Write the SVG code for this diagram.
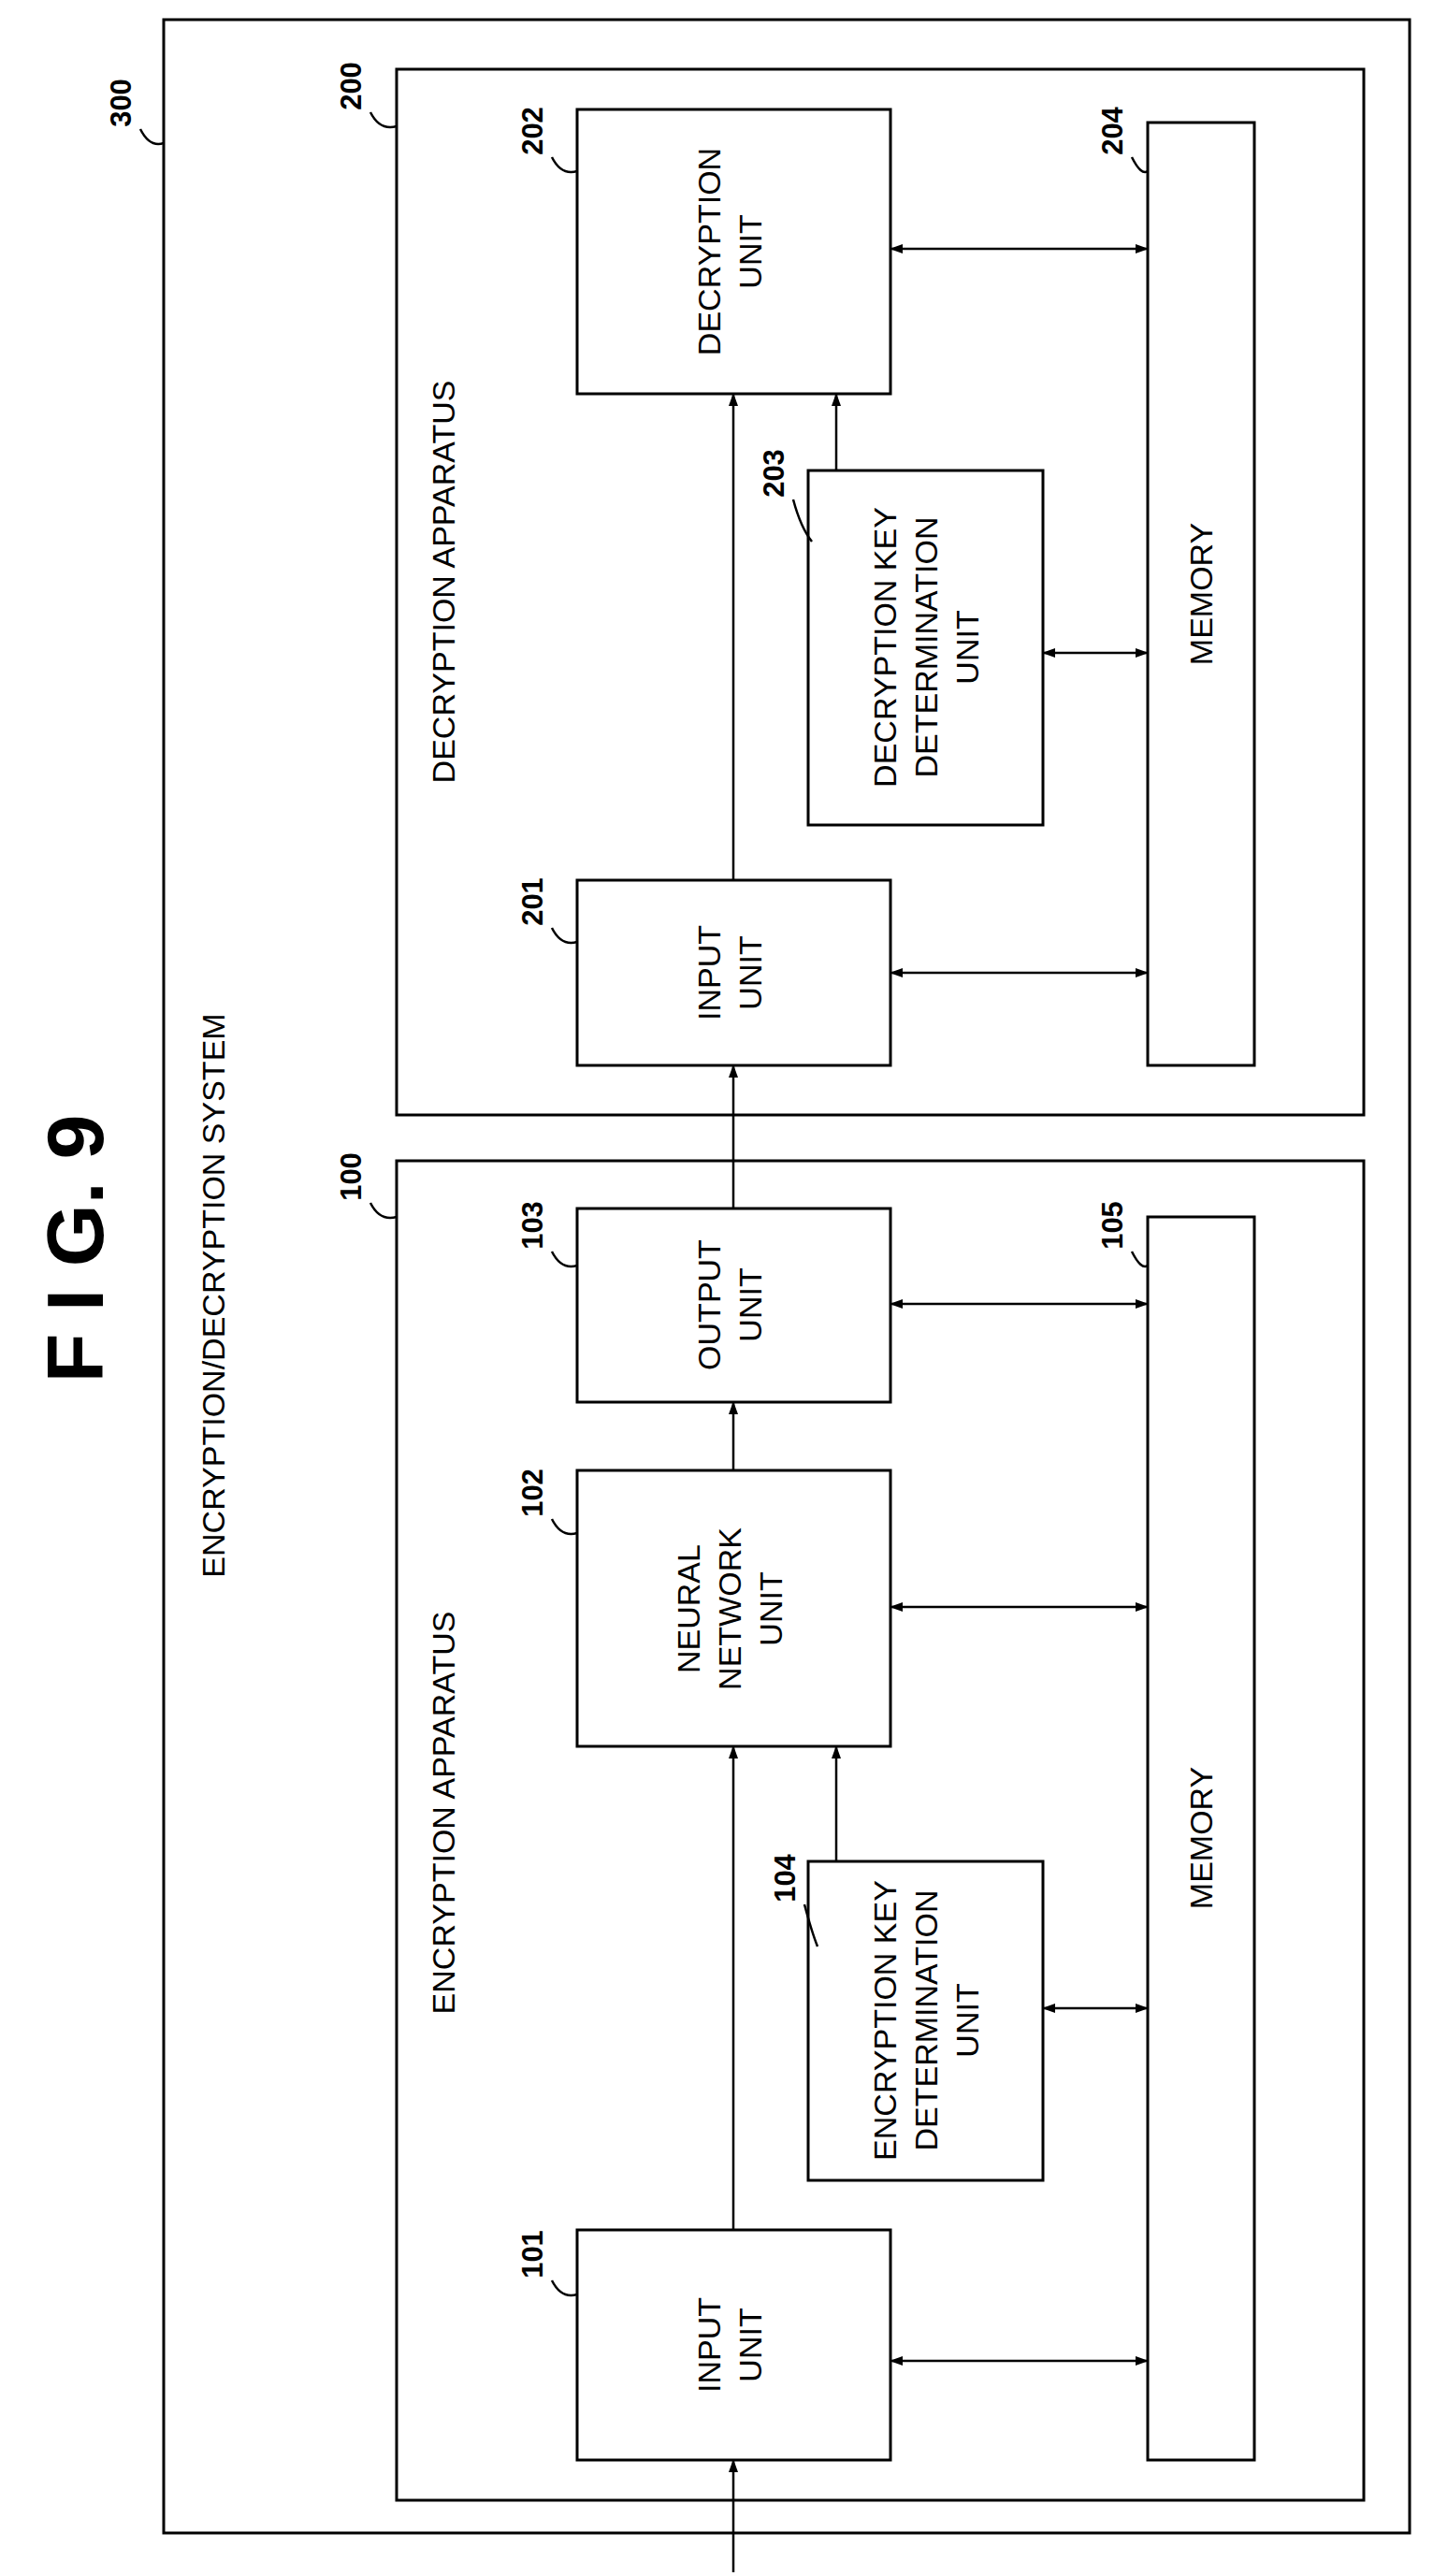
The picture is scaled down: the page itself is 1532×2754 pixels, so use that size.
<svg xmlns="http://www.w3.org/2000/svg" width="1532" height="2754" viewBox="0 0 1532 2754">
<style>
.b{fill:#fff;stroke:#000;stroke-width:3}
.t{font-family:"Liberation Sans",Arial,sans-serif;font-size:34px;text-anchor:middle;fill:#000}
.n{font-family:"Liberation Sans",Arial,sans-serif;font-size:31px;font-weight:bold;text-anchor:middle;fill:#000}
.l{fill:none;stroke:#000;stroke-width:2.5}
.a{fill:none;stroke:#000;stroke-width:2.5;marker-end:url(#ah)}
.d{fill:none;stroke:#000;stroke-width:2.5;marker-end:url(#ah);marker-start:url(#ah)}
</style>
<defs><marker id="ah" markerWidth="14" markerHeight="10" refX="13" refY="5" orient="auto-start-reverse" markerUnits="userSpaceOnUse"><path d="M0,0 L14,5 L0,10 Z" fill="#000"/></marker></defs>
<rect width="1532" height="2754" fill="#fff"/>
<text class="n" style="font-size:86px" transform="translate(110,1335) rotate(-90)">F I G. 9</text>
<g id="n300"><rect class="b" x="175" y="21" width="1332" height="2687"/>
<text class="t" transform="translate(240,1385) rotate(-90)">ENCRYPTION/DECRYPTION SYSTEM</text>
<text class="n" transform="translate(140,110) rotate(-90)">300</text><path class="l" d="M150,138 q10,20 25,15"/></g>
<g id="n200"><rect class="b" x="424" y="74" width="1034" height="1118"/>
<text class="t" transform="translate(486,622) rotate(-90)">DECRYPTION APPARATUS</text>
<text class="n" transform="translate(386,92) rotate(-90)">200</text><path class="l" d="M396,120 q10,20 28,15"/></g>
<g id="n100"><rect class="b" x="424" y="1241" width="1034" height="1432"/>
<text class="t" transform="translate(486,1938) rotate(-90)">ENCRYPTION APPARATUS</text>
<text class="n" transform="translate(386,1258) rotate(-90)">100</text><path class="l" d="M396,1286 q10,20 28,15"/></g>
<g id="n202"><rect class="b" x="617" y="117" width="335" height="304"/>
<text class="t" transform="translate(780,269) rotate(-90)"><tspan x="0" y="-10">DECRYPTION</tspan><tspan x="0" y="34">UNIT</tspan></text>
<text class="n" transform="translate(580,140) rotate(-90)">202</text><path class="l" d="M590,168 q10,20 27,15"/></g>
<g id="n203"><rect class="b" x="864" y="503" width="251" height="379"/>
<text class="t" transform="translate(990,692) rotate(-90)"><tspan x="0" y="-32">DECRYPTION KEY</tspan><tspan x="0" y="12">DETERMINATION</tspan><tspan x="0" y="56">UNIT</tspan></text>
<text class="n" transform="translate(838,506) rotate(-90)">203</text><path class="l" d="M848,534 q8,30 20,45"/></g>
<g id="n201"><rect class="b" x="617" y="941" width="335" height="198"/>
<text class="t" transform="translate(780,1040) rotate(-90)"><tspan x="0" y="-10">INPUT</tspan><tspan x="0" y="34">UNIT</tspan></text>
<text class="n" transform="translate(580,964) rotate(-90)">201</text><path class="l" d="M590,992 q10,20 27,15"/></g>
<g id="n204"><rect class="b" x="1227" y="131" width="114" height="1008"/>
<text class="t" transform="translate(1296,635) rotate(-90)">MEMORY</text>
<text class="n" transform="translate(1200,140) rotate(-90)">204</text><path class="l" d="M1210,168 q10,20 17,15"/></g>
<g id="n103"><rect class="b" x="617" y="1292" width="335" height="207"/>
<text class="t" transform="translate(780,1395) rotate(-90)"><tspan x="0" y="-10">OUTPUT</tspan><tspan x="0" y="34">UNIT</tspan></text>
<text class="n" transform="translate(580,1310) rotate(-90)">103</text><path class="l" d="M590,1338 q10,20 27,15"/></g>
<g id="n102"><rect class="b" x="617" y="1572" width="335" height="295"/>
<text class="t" transform="translate(780,1720) rotate(-90)"><tspan x="0" y="-32">NEURAL</tspan><tspan x="0" y="12">NETWORK</tspan><tspan x="0" y="56">UNIT</tspan></text>
<text class="n" transform="translate(580,1596) rotate(-90)">102</text><path class="l" d="M590,1624 q10,20 27,15"/></g>
<g id="n104"><rect class="b" x="864" y="1990" width="251" height="341"/>
<text class="t" transform="translate(990,2160) rotate(-90)"><tspan x="0" y="-32">ENCRYPTION KEY</tspan><tspan x="0" y="12">DETERMINATION</tspan><tspan x="0" y="56">UNIT</tspan></text>
<text class="n" transform="translate(850,2008) rotate(-90)">104</text><path class="l" d="M860,2036 q8,30 14,45"/></g>
<g id="n101"><rect class="b" x="617" y="2384" width="335" height="246"/>
<text class="t" transform="translate(780,2507) rotate(-90)"><tspan x="0" y="-10">INPUT</tspan><tspan x="0" y="34">UNIT</tspan></text>
<text class="n" transform="translate(580,2410) rotate(-90)">101</text><path class="l" d="M590,2438 q10,20 27,15"/></g>
<g id="n105"><rect class="b" x="1227" y="1301" width="114" height="1329"/>
<text class="t" transform="translate(1296,1965) rotate(-90)">MEMORY</text>
<text class="n" transform="translate(1200,1310) rotate(-90)">105</text><path class="l" d="M1210,1338 q10,20 17,15"/></g>
<g id="connectors">
<path class="a" d="M784,2750 V2630"/>
<path class="a" d="M784,2384 V1867"/>
<path class="a" d="M784,1572 V1499"/>
<path class="a" d="M784,1292 V1139"/>
<path class="a" d="M784,941 V421"/>
<path class="a" d="M894,1990 V1867"/>
<path class="a" d="M894,503 V421"/>
<path class="d" d="M952,266 H1227"/>
<path class="d" d="M952,1040 H1227"/>
<path class="d" d="M1115,698 H1227"/>
<path class="d" d="M952,1394 H1227"/>
<path class="d" d="M952,1718 H1227"/>
<path class="d" d="M952,2524 H1227"/>
<path class="d" d="M1115,2147 H1227"/>
</g>
</svg>
